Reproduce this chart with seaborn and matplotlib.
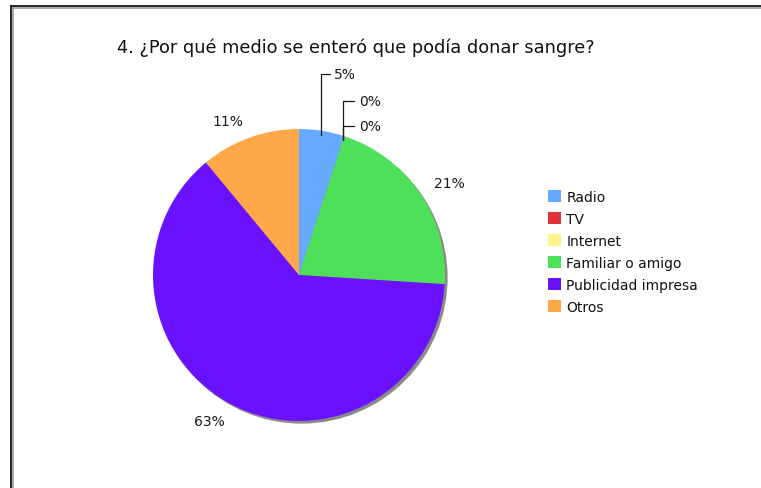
import numpy as np
import matplotlib
matplotlib.use("Agg")
import matplotlib.pyplot as plt
from matplotlib.patches import Circle
from matplotlib.lines import Line2D
import seaborn as sns

sns.set_theme(style="white")
plt.rcParams["font.family"] = ["DejaVu Sans"]

# Survey answers (percent of respondents)
categories = ["Radio", "TV", "Internet", "Familiar o amigo", "Publicidad impresa", "Otros"]
percentages = [5, 0, 0, 21, 63, 11]
colors = ["#66AAFF", "#E0323A", "#FFF18C", "#4FE05A", "#6A11FF", "#FFA84A"]
title = "4. ¿Por qué medio se enteró que podía donar sangre?"

W, H = 761, 489
fig = plt.figure(figsize=(W / 100, H / 100), dpi=100)
fig.patch.set_facecolor("white")

# Square axes holding the pie, centred at (299, 276) px from top-left
cx, cy, R = 299, 276, 146
half = 165
ax = fig.add_axes([(cx - half) / W, (H - cy - half) / H, 2 * half / W, 2 * half / H])

# Drop shadow under the pie
ax.add_patch(Circle((0.018, -0.018), 1.0, facecolor="#8a8a8a", edgecolor="none", zorder=0))

wedges, _ = ax.pie(percentages, colors=colors, startangle=90, counterclock=False,
                   radius=1.0, wedgeprops=dict(linewidth=0, zorder=1))
lim = half / R
ax.set_xlim(-lim, lim)
ax.set_ylim(-lim, lim)
ax.set_aspect("equal")
ax.axis("off")

# Offsets (in data units) for labels of small slices that need leader lines
leader_offsets = {0: (0.09, 1.38), 1: (0.11, 1.195), 2: (0.11, 1.02)}

for i, (w, p) in enumerate(zip(wedges, percentages)):
    label = f"{p}%"
    mid = np.deg2rad((w.theta1 + w.theta2) / 2)
    if p < 10:
        edge = np.deg2rad(w.theta1 if p == 0 else (w.theta1 + w.theta2) / 2)
        ex, ey = np.cos(edge) * 0.97, np.sin(edge) * 0.97
        dx, ty = leader_offsets[i]
        ax.annotate(label, xy=(ex, ey), xytext=(ex + dx, ty),
                    ha="left", va="center", fontsize=10, color="#1a1a1a",
                    arrowprops=dict(arrowstyle="-", color="#1a1a1a", lw=0.9,
                                    shrinkA=1, shrinkB=0,
                                    connectionstyle="angle,angleA=0,angleB=90,rad=0"))
    else:
        x, y = 1.12 * np.cos(mid), 1.12 * np.sin(mid)
        ax.text(x, y, label, ha="left" if x > 0 else "right", va="center",
                fontsize=10, color="#1a1a1a")

fig.text(356 / W, 1 - 48 / H, title, ha="center", va="center", fontsize=12.8, color="#111111")

# Legend
leg = fig.legend(wedges, categories, loc="upper left",
                 bbox_to_anchor=(542 / W, 1 - 185 / H), frameon=False,
                 fontsize=10, handlelength=0.95, handleheight=0.95,
                 handletextpad=0.4, labelspacing=0.58, borderaxespad=0)
for t in leg.get_texts():
    t.set_color("#111111")

# Frame along the top and left edges
for off, col in [(1.5, "#9a9a9a"), (0, "black")]:
    fig.add_artist(Line2D([(11 + off) / W, 1.0], [1 - (7 + off) / H] * 2,
                          transform=fig.transFigure, color=col, lw=1.2))
    fig.add_artist(Line2D([(11 + off) / W] * 2, [0, 1 - (7 + off) / H],
                          transform=fig.transFigure, color=col, lw=1.2))

fig.savefig("out.png", dpi=100, facecolor="white")
